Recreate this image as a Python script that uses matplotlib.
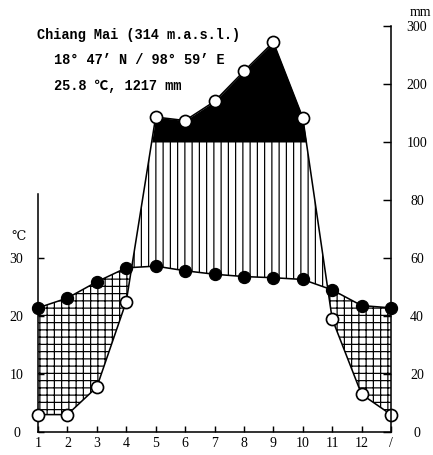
import numpy as np
import matplotlib
matplotlib.use('Agg')
import matplotlib.pyplot as plt

# ---- data ----
month_labels = ['1', '2', '3', '4', '5', '6', '7', '8', '9', '10', '11', '12', '/']
temp_c = [21.4, 23.1, 25.9, 28.3, 28.6, 27.8, 27.2, 26.8, 26.6, 26.3, 24.5, 21.8]
precip_mm = [6, 6, 15.5, 45, 143, 137, 170, 222, 272, 142, 39, 13]
temp_ticks = [0, 10, 20, 30]
precip_ticks = [0, 20, 40, 60, 80, 100, 200, 300]

station = "Chiang Mai (314 m.a.s.l.)"
coords = "18° 47’ N / 98° 59’ E"
summary = "25.8 ℃, 1217 mm"


def p_scale(p):
    p = np.asarray(p, float)
    return np.where(p <= 100, p, 100 + (p - 100) / 5)


DPI = 87
W, H = 433, 455
plt.rcParams['font.family'] = ['Liberation Serif', 'DejaVu Serif']
plt.rcParams['hatch.linewidth'] = 1.0
plt.rcParams['hatch.color'] = 'black'

fig = plt.figure(figsize=(W / DPI, H / DPI), dpi=DPI)
ax = fig.add_axes([38 / W, 1 - 432 / H, (391 - 38) / W, (432 - 26) / H])

x = np.arange(1, len(month_labels) + 1)
t = np.array(temp_c + temp_c[:1]) * 2.0
p = p_scale(precip_mm + precip_mm[:1])

xf = np.linspace(1, 13, 2401)
tf = np.interp(xf, x, t)
pf = np.interp(xf, x, p)

# fills
ax.fill_between(xf, pf, 100, where=pf > 100, facecolor='black',
                edgecolor='black', linewidth=0, interpolate=True, zorder=1)
ax.fill_between(xf, tf, np.minimum(pf, 100), where=pf > tf, facecolor='none',
                edgecolor='black', hatch='||', linewidth=0, interpolate=True, zorder=1)
ax.fill_between(xf, pf, tf, where=pf < tf, facecolor='none',
                edgecolor='black', hatch='++', linewidth=0, interpolate=True, zorder=1)

# lines
ax.plot(x, t, color='black', lw=1.3, zorder=3, clip_on=False)
ax.plot(x, p, color='black', lw=1.3, zorder=3, clip_on=False)
ax.plot(x, t, 'o', ms=10, mfc='black', mec='black', zorder=4, clip_on=False)
ax.plot(x, p, 'o', ms=10, mfc='white', mec='black', mew=1.4, zorder=4, clip_on=False)

ax.set_xlim(1, 13)
ax.set_ylim(0, 140)

for s in ['top', 'right']:
    ax.spines[s].set_visible(False)
ax.spines['left'].set_bounds(0, 82)
for s in ['left', 'bottom']:
    ax.spines[s].set_linewidth(1.3)

ax.set_xticks(x, month_labels)
ax.tick_params(axis='x', direction='in', length=5, width=1.2, pad=4, labelsize=11.5)
ax.set_yticks([v * 2 for v in temp_ticks], [str(v) for v in temp_ticks])
ax.tick_params(axis='y', direction='in', length=5, width=1.2, pad=17.8, labelsize=11.5)
for lab in ax.get_yticklabels():
    lab.set_horizontalalignment('center')

ax2 = ax.twinx()
ax2.set_ylim(0, 140)
for s in ['top', 'left', 'bottom']:
    ax2.spines[s].set_visible(False)
ax2.spines['right'].set_bounds(0, 140)
ax2.spines['right'].set_linewidth(1.3)
ax2.set_yticks(p_scale(precip_ticks), [str(v) for v in precip_ticks])
ax2.tick_params(axis='y', direction='in', length=6.5, width=1.2, pad=21.5, labelsize=11.5)
for lab in ax2.get_yticklabels():
    lab.set_horizontalalignment('center')

# texts
mono = ['Liberation Mono', 'DejaVu Sans Mono', 'Noto Sans CJK JP']
fig.text(37 / W, 1 - 39 / H, station, family=mono, fontsize=11.3, weight='bold', va='baseline')
fig.text(54 / W, 1 - 64 / H, coords, family=mono, fontsize=11.3, weight='bold', va='baseline')
fig.text(54 / W, 1 - 90 / H, summary, family=mono, fontsize=11.3, weight='bold', va='baseline')
fig.text(18 / W, 1 - 236 / H, '℃', family=['DejaVu Serif', 'DejaVu Sans', 'Noto Sans CJK JP'],
         fontsize=10.5, ha='center', va='center')
fig.text(420 / W, 1 - 12 / H, 'mm', fontsize=11.5, ha='center', va='center')

fig.savefig('out.png', dpi=DPI)
